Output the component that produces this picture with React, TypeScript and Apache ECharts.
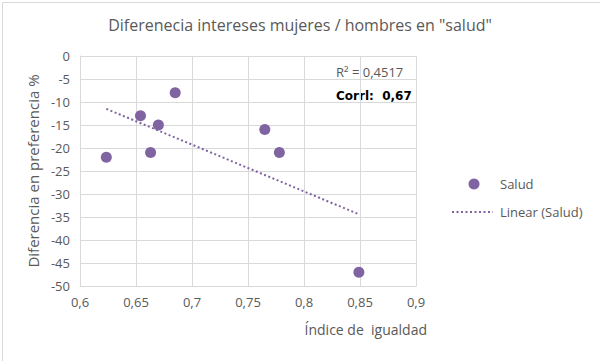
import React, { useEffect, useRef } from "react";
import * as echarts from "echarts";

const title = 'Diferenecia intereses mujeres / hombres en "salud"';
const xAxisName = "Índice de  igualdad";
const yAxisName = "Diferencia en preferencia %";
const seriesName = "Salud";
const trendName = "Linear (Salud)";
const indiceIgualdad = [0.6235, 0.654, 0.67, 0.663, 0.685, 0.765, 0.778, 0.849];
const diferencia = [-22, -13, -15, -21, -8, -16, -21, -47];
const r2Label = "R² = 0,4517";
const corrLabel = "Corrl:  0,67";

const FONT = "'Open Sans', sans-serif";
const PURPLE = "#8064A2";
const GREY = "#595959";

function regression(xs: number[], ys: number[]) {
  const n = xs.length;
  const mx = xs.reduce((a, b) => a + b, 0) / n;
  const my = ys.reduce((a, b) => a + b, 0) / n;
  let sxy = 0;
  let sxx = 0;
  for (let i = 0; i < n; i++) {
    sxy += (xs[i] - mx) * (ys[i] - my);
    sxx += (xs[i] - mx) * (xs[i] - mx);
  }
  const slope = sxy / sxx;
  return { slope, intercept: my - slope * mx };
}

export default function App() {
  const ref = useRef<HTMLDivElement>(null);
  useEffect(() => {
    document.body.style.margin = "0";
    const chart = echarts.init(ref.current!, null, { renderer: "svg" });
    const { slope, intercept } = regression(indiceIgualdad, diferencia);
    const xmin = Math.min(...indiceIgualdad);
    const xmax = Math.max(...indiceIgualdad);
    const trend = [
      [xmin, intercept + slope * xmin],
      [xmax, intercept + slope * xmax],
    ];
    const fmtX = (v: number) => String(Math.round(v * 100) / 100).replace(".", ",");
    chart.setOption({
      animation: false,
      backgroundColor: "#fff",
      title: {
        text: title,
        left: "center",
        top: 12,
        textStyle: { fontFamily: FONT, fontSize: 16, fontWeight: "normal", color: GREY },
      },
      grid: { left: 80, right: 184, top: 56, bottom: 75 },
      xAxis: {
        type: "value",
        min: 0.6,
        max: 0.9,
        interval: 0.05,
        axisLine: { show: true, onZero: false, lineStyle: { color: "#d9d9d9" } },
        axisTick: { show: false },
        splitLine: { show: true, lineStyle: { color: "#d9d9d9" } },
        axisLabel: {
          formatter: fmtX,
          fontFamily: FONT,
          fontSize: 13,
          color: GREY,
          margin: 9,
        },
      },
      yAxis: {
        type: "value",
        min: -50,
        max: 0,
        interval: 5,
        name: yAxisName,
        nameLocation: "middle",
        nameGap: 40,
        nameTextStyle: { fontFamily: FONT, fontSize: 15, color: GREY },
        axisLine: { show: true, lineStyle: { color: "#d9d9d9" } },
        axisTick: { show: false },
        splitLine: { show: true, lineStyle: { color: "#d9d9d9" } },
        axisLabel: { fontFamily: FONT, fontSize: 13, color: GREY, margin: 10 },
      },
      graphic: [
        {
          type: "rect",
          left: 0,
          top: 0,
          shape: { width: 599, height: 360 },
          style: { fill: "none", stroke: "#d9d9d9", lineWidth: 1 },
          silent: true,
        },
        {
          type: "text",
          x: 427,
          y: 329,
          style: {
            text: xAxisName,
            fontFamily: FONT,
            fontSize: 14,
            fill: GREY,
            align: "right",
            verticalAlign: "middle",
          },
        },
        {
          type: "text",
          left: 336,
          top: 65,
          style: { text: r2Label, fontFamily: FONT, fontSize: 13, fill: GREY },
        },
        {
          type: "text",
          left: 336,
          top: 90,
          style: { text: corrLabel, fontFamily: "'DejaVu Sans', sans-serif", fontSize: 12, fontWeight: "bold", fill: "#000" },
        },
        // legend
        {
          type: "circle",
          shape: { cx: 474, cy: 184, r: 5.5 },
          style: { fill: PURPLE },
        },
        {
          type: "text",
          x: 500,
          y: 184,
          style: { text: seriesName, fontFamily: FONT, fontSize: 13, fill: GREY, verticalAlign: "middle" },
        },
        {
          type: "line",
          shape: { x1: 452, y1: 212, x2: 493, y2: 212 },
          style: { stroke: PURPLE, lineWidth: 2, lineDash: [2, 2.5] },
        },
        {
          type: "text",
          x: 500,
          y: 212,
          style: { text: trendName, fontFamily: FONT, fontSize: 13, fill: GREY, verticalAlign: "middle" },
        },
      ],
      series: [
        {
          name: seriesName,
          type: "scatter",
          symbol: "circle",
          symbolSize: 11,
          itemStyle: { color: PURPLE, opacity: 1 },
          data: indiceIgualdad.map((x, i) => [x, diferencia[i]]),
          z: 3,
        },
        {
          name: trendName,
          type: "line",
          symbol: "none",
          data: trend,
          lineStyle: { color: PURPLE, width: 2, type: [2, 2.5] },
          itemStyle: { color: PURPLE },
          z: 2,
        },
      ],
    });
    return () => chart.dispose();
  }, []);
  return <div ref={ref} style={{ width: 600, height: 361 }} />;
}
